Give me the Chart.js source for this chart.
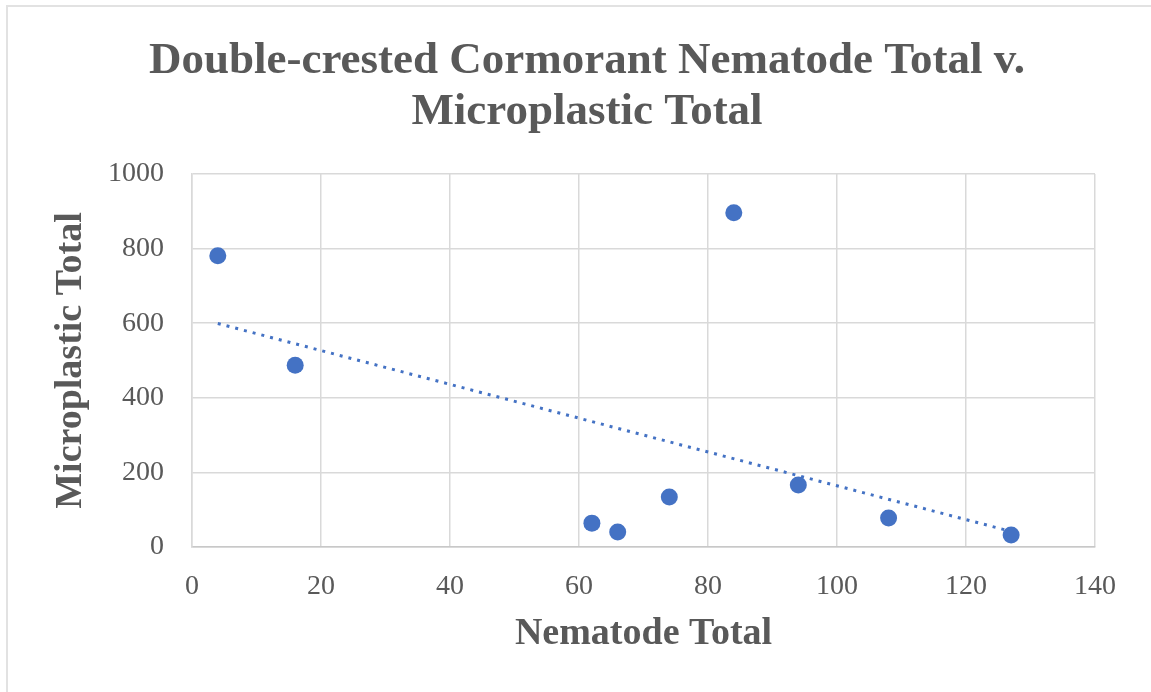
<!DOCTYPE html>
<html>
<head>
<meta charset="utf-8">
<title>Double-crested Cormorant Nematode Total v. Microplastic Total</title>
<script src="https://cdn.jsdelivr.net/npm/chart.js@4"></script>
<style>
  html, body { margin: 0; padding: 0; background: #fff; overflow: hidden; }
  #frame {
    position: absolute; left: 6px; top: 5px; width: 1160px; height: 700px;
    border-top: 2px solid #e2e2e2; border-left: 2px solid #e2e2e2;
  }
  #wrap { position: absolute; left: 0; top: 0; width: 1151px; height: 692px; }
</style>
</head>
<body>
<div id="frame"></div>
<div id="wrap"><canvas id="chart" width="1151" height="692"></canvas></div>
<script>
// values
const nematodeTotal = [4, 16, 62, 66, 74, 84, 94, 108, 127];
const microplasticTotal = [781, 487, 64, 40, 134, 896, 166, 78, 32];
const titleLines = ['Double-crested Cormorant Nematode Total v.', 'Microplastic Total'];
const xTitle = 'Nematode Total';
const yTitle = 'Microplastic Total';

const SERIF = "'Liberation Serif', 'Times New Roman', serif";
const BLUE = '#4472C4';
const TEXT = '#595959';
const GRID = '#d9d9d9';

// linear trendline (least squares), drawn over the data range like Excel
function trendline(xs, ys) {
  const n = xs.length;
  const mx = xs.reduce((a, b) => a + b, 0) / n;
  const my = ys.reduce((a, b) => a + b, 0) / n;
  let sxy = 0, sxx = 0;
  for (let i = 0; i < n; i++) {
    sxy += (xs[i] - mx) * (ys[i] - my);
    sxx += (xs[i] - mx) * (xs[i] - mx);
  }
  const slope = sxy / sxx;
  const icpt = my - slope * mx;
  const x0 = Math.min(...xs), x1 = Math.max(...xs);
  return [{ x: x0, y: icpt + slope * x0 }, { x: x1, y: icpt + slope * x1 }];
}

// chart title, centred a bit right of the canvas centre like the original
const titlePlugin = {
  id: 'chartTitle',
  afterDraw(chart) {
    const ctx = chart.ctx;
    ctx.save();
    ctx.fillStyle = TEXT;
    ctx.font = `bold 45px ${SERIF}`;
    ctx.textAlign = 'center';
    ctx.textBaseline = 'alphabetic';
    titleLines.forEach((line, i) => ctx.fillText(line, 587, 73 + i * 51));
    ctx.restore();
  }
};

const points = nematodeTotal.map((x, i) => ({ x, y: microplasticTotal[i] }));

new Chart(document.getElementById('chart'), {
  type: 'scatter',
  data: {
    datasets: [
      {
        label: 'Microplastic Total',
        data: points,
        backgroundColor: BLUE,
        borderColor: BLUE,
        pointRadius: 8.5,
        pointBorderWidth: 0,
        order: 1,
      },
      {
        type: 'line',
        label: 'Linear trend',
        data: trendline(nematodeTotal, microplasticTotal),
        borderColor: BLUE,
        borderWidth: 3,
        borderDash: [3, 6],
        pointRadius: 0,
        fill: false,
        order: 2,
      }
    ]
  },
  plugins: [titlePlugin],
  options: {
    responsive: false,
    animation: false,
    layout: { padding: { left: 0, right: 56, top: 174, bottom: 0 } },
    plugins: {
      legend: { display: false },
      tooltip: { enabled: false },
      title: { display: false }
    },
    scales: {
      x: {
        type: 'linear',
        min: 0, max: 140,
        ticks: { stepSize: 20, color: TEXT, padding: 23, font: { family: SERIF, size: 28 } },
        grid: { color: GRID, lineWidth: 1.5, drawTicks: false },
        border: { color: '#c8c8c8', width: 1.5 },
        title: {
          display: true, text: xTitle, color: TEXT,
          font: { family: SERIF, size: 38, weight: 'bold', lineHeight: 1.2 },
          padding: { top: 0, bottom: 35 },
        },
        afterFit: s => { s.height = 692 - 547; },
      },
      y: {
        min: 0, max: 1000,
        ticks: {
          stepSize: 200, color: TEXT, padding: 28, font: { family: SERIF, size: 28 },
          callback: v => String(v),
        },
        grid: { color: GRID, lineWidth: 1.5, drawTicks: false },
        border: { color: GRID, width: 1.5 },
        title: {
          display: true, text: yTitle, color: TEXT,
          font: { family: SERIF, size: 38, weight: 'bold', lineHeight: 1.2 },
          padding: { top: 48, bottom: 0 },
        },
        afterFit: s => { s.width = 192; },
      }
    }
  }
});
</script>
</body>
</html>
